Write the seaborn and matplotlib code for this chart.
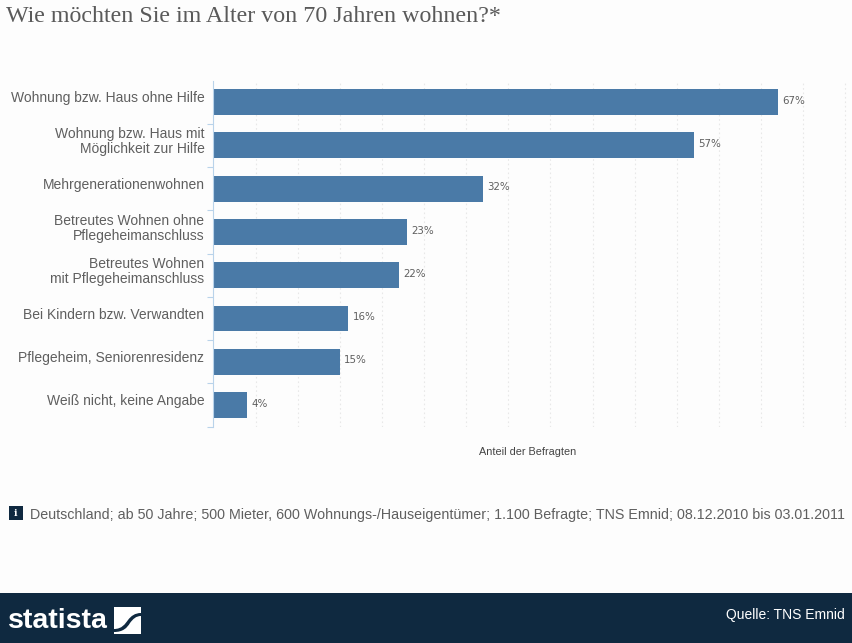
import pandas as pd
import numpy as np
import seaborn as sns
import matplotlib.pyplot as plt
from matplotlib.patches import Rectangle, PathPatch
from matplotlib.path import Path
from matplotlib.transforms import ScaledTranslation

# Data
categories = ["Wohnung bzw. Haus ohne Hilfe", "Wohnung bzw. Haus mit\nMöglichkeit zur Hilfe",
              "Mehrgenerationenwohnen", "Betreutes Wohnen ohne\nPflegeheimanschluss",
              "Betreutes Wohnen\nmit Pflegeheimanschluss", "Bei Kindern bzw. Verwandten",
              "Pflegeheim, Seniorenresidenz", "Weiß nicht, keine Angabe"]
values = [67, 57, 32, 23, 22, 16, 15, 4]
grid_ticks = [5, 10, 15, 20, 25, 30, 35, 40, 45, 50, 55, 60, 65, 70, 75]

W, H = 853, 643
BG = "#fdfdfd"
NAVY = "#0f2940"
TEXT = "#5f5f5f"

sns.set_theme(style="white")
plt.rcParams["font.family"] = ["Liberation Sans", "DejaVu Sans"]

df = pd.DataFrame({"Kategorie": categories, "Anteil": values})

fig = plt.figure(figsize=(W / 100, H / 100), dpi=100, facecolor=BG)
# axes box in pixels: x 214-853, y 80-427
ax = fig.add_axes([213.5 / W, 1 - 426.7 / H, (W - 213.5) / W, 346.2 / H], facecolor=BG)

sns.barplot(data=df, x="Anteil", y="Kategorie", color="#4a7aa7", saturation=1, width=0.6,
            linewidth=0, ax=ax)

ax.set_xlim(0, (W - 213.5) / 8.425)
ax.set_ylim(7.5, -0.5)
ax.set_xlabel("")
ax.set_ylabel("")

# dotted grid every 5 percent, no x tick labels
ax.set_xticks(grid_ticks)
ax.set_xticklabels([])
ax.xaxis.grid(True, color="#e8e8e8", linestyle=(0, (1.5, 2.5)), linewidth=0.8)
ax.set_axisbelow(True)
ax.tick_params(axis="x", length=0)

# category labels sit a bit above the bar centres
ax.tick_params(axis="y", which="major", length=0, pad=6.5, labelsize=10, labelcolor=TEXT)
ax.set_yticks(np.arange(0.5, 8), minor=True)
ax.tick_params(axis="y", which="minor", left=True, length=4.5, width=0.8, color="#b9d3ea")
shift = ScaledTranslation(0, 5.5 / 100, fig.dpi_scale_trans)
for lab in ax.get_yticklabels():
    lab.set_horizontalalignment("right")
    lab.set_multialignment("right")
    lab.set_linespacing(1.08)
    lab.set_transform(lab.get_transform() + shift)

sns.despine(ax=ax, top=True, right=True, bottom=True)
ax.spines["left"].set_color("#b9d3ea")
ax.spines["left"].set_linewidth(0.8)

bar_texts = ax.bar_label(ax.containers[0], labels=[f"{v}%" for v in values], padding=3.5,
                         fontsize=7.4, color=TEXT, family="DejaVu Sans")
for t in bar_texts:
    t.xyann = (3, 1)

fig.text(6 / W, 1 - 16.5 / H, "Wie möchten Sie im Alter von 70 Jahren wohnen?*", fontsize=17.3,
         family="Liberation Serif", color="#5a5a5a", va="center", ha="left")
fig.text(528 / W, 1 - 452 / H, "Anteil der Befragten", fontsize=7.8, color="#444444", ha="center", va="center")

# info line
fig.add_artist(Rectangle((9 / W, 1 - 520 / H), 14 / W, 14 / H, transform=fig.transFigure, color=NAVY, lw=0))
fig.text(16 / W, 1 - 513 / H, "i", fontsize=7, fontweight="bold", color="white", ha="center", va="center",
         family="DejaVu Serif")
fig.text(30 / W, 1 - 515 / H,
         "Deutschland; ab 50 Jahre; 500 Mieter, 600 Wohnungs-/Hauseigentümer; 1.100 Befragte; TNS Emnid; 08.12.2010 bis 03.01.2011",
         fontsize=10.24, color=TEXT, ha="left", va="center")

# footer band with logo
fig.add_artist(Rectangle((0, 0), 1, 50 / H, transform=fig.transFigure, color=NAVY, lw=0))
fig.text(8 / W, 1 - 621 / H, "statista", fontsize=20.5, fontweight="bold", color="white", ha="left", va="center")
fig.add_artist(Rectangle((114 / W, 1 - 634 / H), 27 / W, 27 / H, transform=fig.transFigure, color="white", lw=0))


def px(x, y):
    return (x / W, 1 - y / H)


# dark swoosh across the logo square
swoosh = Path([px(114, 629), px(122, 629), px(125, 624), px(128, 620), px(131, 616), px(135, 613), px(141, 613),
               px(141, 616), px(136, 616), px(133, 619), px(130, 623), px(127, 628), px(123, 632), px(114, 632),
               px(114, 629)],
              [Path.MOVETO] + [Path.CURVE4] * 6 + [Path.LINETO] + [Path.CURVE4] * 6 + [Path.CLOSEPOLY])
fig.add_artist(PathPatch(swoosh, transform=fig.transFigure, facecolor=NAVY, lw=0))

fig.text(845 / W, 1 - 614.5 / H, "Quelle: TNS Emnid", fontsize=10, color="white", ha="right", va="center")

fig.savefig("out.png", dpi=100, facecolor=fig.get_facecolor())
